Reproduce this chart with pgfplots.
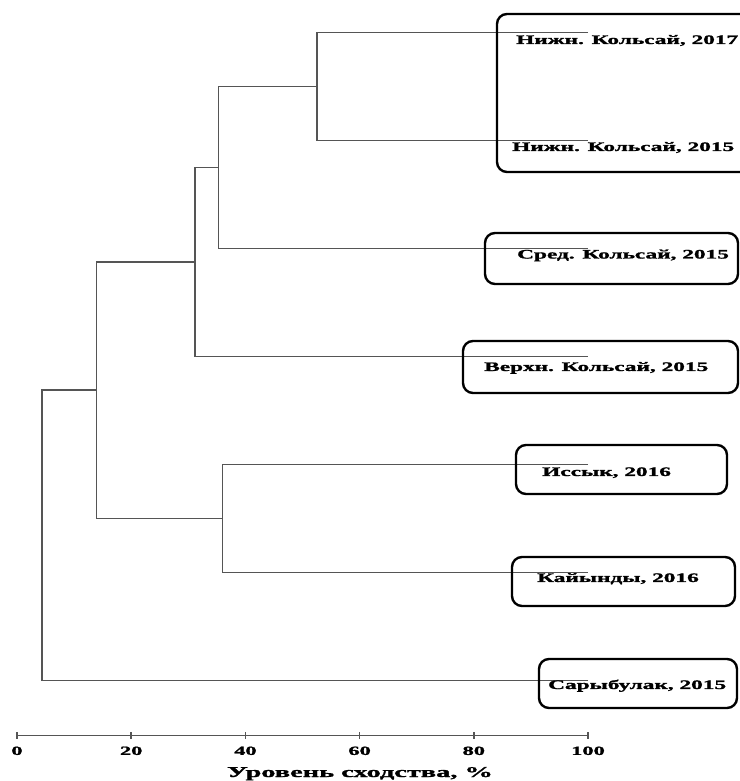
\documentclass[border=0pt]{standalone}
\usepackage{fontspec}
\setmainfont{Liberation Serif}[BoldFeatures={FakeBold=1.2}]
\usepackage{pgfplots}
\pgfplotsset{compat=1.18}
\usepackage{graphicx}
\newcommand\sx[1]{\scalebox{1.8}[1]{#1}}
\definecolor{dline}{RGB}{85,85,85}
\begin{document}
\begin{tikzpicture}
\begin{axis}[
  x=5.71bp, y=108bp,
  xmin=0, xmax=100, ymin=0.49, ymax=7.3,
  axis x line*=bottom, axis y line=none,
  ytick=\empty,
  clip=false,
  xtick={0,20,40,60,80,100},
  xticklabels={\sx{0},\sx{20},\sx{40},\sx{60},\sx{80},\sx{100}},
  xticklabel style={font=\bfseries\fontsize{12.5}{12.5}\selectfont, anchor=base, yshift=-16bp},
  tick align=center, major tick length=7bp,
  axis line style={line width=1.5bp, dline},
  tick style={line width=1.5bp, dline},
]
\addplot[dline, line width=1.5bp] coordinates {(100,7) (52.5,7) (52.5,6) (100,6)};
\addplot[dline, line width=1.5bp] coordinates {(52.5,6.5) (35.25,6.5) (35.25,5) (100,5)};
\addplot[dline, line width=1.5bp] coordinates {(35.25,5.75) (31.2,5.75) (31.2,4) (100,4)};
\addplot[dline, line width=1.5bp] coordinates {(100,3) (36,3) (36,2) (100,2)};
\addplot[dline, line width=1.5bp] coordinates {(31.2,4.875) (13.95,4.875) (13.95,2.5) (36,2.5)};
\addplot[dline, line width=1.5bp] coordinates {(13.95,3.6875) (4.4,3.6875) (4.4,1) (100,1)};
\coordinate (P0) at (axis cs:-2.9772,7.2991);
\end{axis}
\pgfresetboundingbox
\begin{scope}[shift={(P0)}, x=1bp, y=-1bp]
\path[use as bounding box] (0,0) rectangle (740,781);
\begin{scope}[line width=2.4bp, rounded corners=10bp]
\draw (497,14) rectangle (770,172);
\draw (485,233) rectangle (738,284);
\draw (463,341) rectangle (738,393);
\draw (516,445) rectangle (727,494);
\draw (512,557) rectangle (735,606);
\draw (539,659) rectangle (737,708);
\end{scope}
\begin{scope}[every node/.style={anchor=base west, inner sep=0pt, font=\bfseries\fontsize{13}{13}\selectfont}]
\node at (516,44) {\sx{Нижн. Кольсай, 2017}};
\node at (512,151) {\sx{Нижн. Кольсай, 2015}};
\node at (517,258.5) {\sx{Сред. Кольсай, 2015}};
\node at (484,371) {\sx{Верхн. Кольсай, 2015}};
\node at (542,476) {\sx{Иссык, 2016}};
\node at (537,582) {\sx{Кайынды, 2016}};
\node at (548,689) {\sx{Сарыбулак, 2015}};
\end{scope}
\node[anchor=base, inner sep=0pt, font=\bfseries\fontsize{15}{15}\selectfont] at (360,777) {\scalebox{1.9}[1]{Уровень сходства, \%}};
\end{scope}
\end{tikzpicture}
\end{document}
